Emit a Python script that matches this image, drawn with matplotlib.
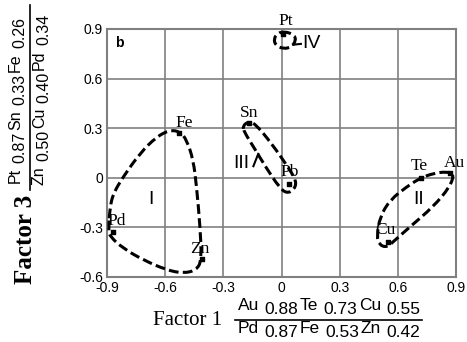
import numpy as np
import matplotlib
matplotlib.use("Agg")
import matplotlib.pyplot as plt
from matplotlib.path import Path
import matplotlib.patches as patches
from matplotlib.lines import Line2D

# element loadings (Factor 1, Factor 3)
elements = ['Pt', 'Fe', 'Pd', 'Zn', 'Sn', 'Pb', 'Te', 'Au', 'Cu']
factor1 = [0.01, -0.53, -0.87, -0.41, -0.17, 0.04, 0.72, 0.87, 0.55]
factor3 = [0.87, 0.27, -0.33, -0.49, 0.33, -0.04, 0.0, 0.03, -0.39]

# factor composition (axis titles)
f1_pos = [('Au', '0.88'), ('Te', '0.73'), ('Cu', '0.55')]
f1_neg = [('Pd', '0.87'), ('Fe', '0.53'), ('Zn', '0.42')]
f3_pos = [('Pt', '0.87'), ('Sn', '0.33'), ('Fe', '0.26')]
f3_neg = [('Zn', '0.50'), ('Cu', '0.40'), ('Pd', '0.34')]

# label offsets in pixels
label_off = {'Pt': (2, 13), 'Fe': (5, 10), 'Pd': (4, 11), 'Zn': (-2, 10),
             'Sn': (1, 10), 'Pb': (0, 12), 'Te': (-2, 12), 'Au': (4, 10),
             'Cu': (-3, 12)}

# group outlines (traced)
group1 = [(-0.884, -0.174), (-0.867, -0.094), (-0.816, 0.007), (-0.730, 0.148),
          (-0.644, 0.249), (-0.575, 0.289), (-0.523, 0.279), (-0.489, 0.229),
          (-0.455, 0.108), (-0.438, -0.053), (-0.420, -0.295), (-0.412, -0.497),
          (-0.438, -0.558), (-0.506, -0.578), (-0.592, -0.558), (-0.713, -0.497),
          (-0.816, -0.427), (-0.884, -0.356), (-0.893, -0.316)]
group3 = [(-0.200, 0.313), (-0.171, 0.340), (-0.137, 0.329), (-0.051, 0.208),
          (0.044, 0.047), (0.078, -0.023), (0.064, -0.074), (0.026, -0.094),
          (-0.011, -0.058), (-0.077, 0.057), (-0.145, 0.188), (-0.193, 0.279)]
group2 = [(0.714, -0.003), (0.783, 0.027), (0.852, 0.037), (0.890, 0.023),
          (0.869, -0.054), (0.783, -0.175), (0.663, -0.296), (0.577, -0.386),
          (0.543, -0.421), (0.505, -0.406), (0.491, -0.356), (0.508, -0.235),
          (0.560, -0.134), (0.646, -0.054)]
group4 = [(0.018, 0.885), (0.065, 0.865), (0.075, 0.830), (0.050, 0.790),
          (0.010, 0.780), (-0.030, 0.800), (-0.040, 0.840), (-0.020, 0.875)]

ticks = [-0.9, -0.6, -0.3, 0, 0.3, 0.6, 0.9]
tick_labels = ['-0.9', '-0.6', '-0.3', '0', '0.3', '0.6', '0.9']

W, H = 467, 342


def smooth_closed(pts):
    pts = np.asarray(pts)
    n = len(pts)
    mids = (pts + np.roll(pts, -1, axis=0)) / 2
    verts = [mids[-1]]
    codes = [Path.MOVETO]
    for i in range(n):
        verts += [pts[i], mids[i]]
        codes += [Path.CURVE3, Path.CURVE3]
    return Path(verts, codes)


def formula(fig, renderer, start, base, parts, size, vertical=False, drop=4, gap=5):
    # start: pixel position along text direction, base: baseline (image px)
    pos = start
    for el, num in parts:
        for s, off in ((el, 0), (num, drop)):
            if vertical:
                t = fig.text((base + off) / W, 1 - pos / H, s, rotation=90,
                             rotation_mode='anchor', ha='left', va='baseline',
                             family='Liberation Sans', fontsize=size)
                ext = t.get_window_extent(renderer)
                pos -= ext.height
            else:
                t = fig.text(pos / W, 1 - (base + off) / H, s, ha='left',
                             va='baseline', family='Liberation Sans', fontsize=size)
                ext = t.get_window_extent(renderer)
                pos += ext.width
            if s == el:
                pos += -gap if vertical else gap
            else:
                pos += -2 if vertical else 2


fig = plt.figure(figsize=(4.67, 3.42), dpi=100)
renderer = fig.canvas.get_renderer()
ax = fig.add_axes([107 / W, 1 - 277 / H, 349 / W, 248 / H])

for g in (group1, group2, group3, group4):
    ax.add_patch(patches.PathPatch(smooth_closed(g), fill=False, edgecolor='black',
                                   linewidth=2.2, linestyle=(0, (3.2, 1.4)),
                                   capstyle='butt', zorder=3))

ax.scatter(factor1, factor3, marker='s', s=9, color='black', zorder=4)
for name, x, y in zip(elements, factor1, factor3):
    dx, dy = label_off[name]
    ax.annotate(name, (x, y), xytext=(dx, dy), textcoords='offset pixels',
                ha='center', va='center', family='Liberation Serif',
                fontsize=12.5, annotation_clip=False, zorder=5)

# group labels
ax.text(-0.675, -0.134, 'I', family='Liberation Sans', fontsize=14,
        ha='center', va='center')
ax.text(0.706, -0.134, 'II', family='Liberation Sans', fontsize=14,
        ha='center', va='center')
ax.text(-0.205, 0.088, 'III', family='Liberation Sans', fontsize=14,
        ha='center', va='center')
ax.plot([-0.145, -0.12], [0.07, 0.145], color='black', lw=1.5)
ax.text(0.156, 0.813, 'IV', family='Liberation Sans', fontsize=14,
        ha='center', va='center')
ax.plot([0.06, 0.10], [0.805, 0.81], color='black', lw=1.5)
ax.text(-0.835, 0.813, 'b', family='Liberation Sans', fontsize=10,
        fontweight='bold', ha='center', va='center')

ax.set_xlim(-0.9, 0.9)
ax.set_ylim(-0.6, 0.9)
ax.set_xticks(ticks)
ax.set_yticks(ticks[1:])
ax.set_xticklabels(tick_labels)
ax.set_yticklabels(tick_labels[1:])
ax.grid(True, color='#808080', linewidth=1.2)
ax.set_axisbelow(True)
for sp in ax.spines.values():
    sp.set_color('#808080')
    sp.set_linewidth(1.5)
ax.tick_params(length=0, pad=3, labelsize=10)
for lab in ax.get_xticklabels() + ax.get_yticklabels():
    lab.set_family('Liberation Sans')

# x axis title
fig.text(188 / W, 1 - 325 / H, 'Factor 1', family='Liberation Serif',
         fontsize=15, ha='center', va='baseline')
formula(fig, renderer, 238, 310, f1_pos, 12.5)
formula(fig, renderer, 238, 333, f1_neg, 12.5)
fig.add_artist(Line2D([235 / W, 422 / W], [1 - 320 / H, 1 - 320 / H],
                      transform=fig.transFigure, color='black', lw=1.2))

# y axis title
fig.text(26 / W, 1 - 239 / H, 'Factor 3', family='Liberation Serif',
         fontsize=18, fontweight='bold', rotation=90, ha='center', va='center')
formula(fig, renderer, 183, 20, f3_pos, 11.5, vertical=True)
formula(fig, renderer, 185, 44, f3_neg, 11.5, vertical=True)
fig.add_artist(Line2D([30 / W, 30 / W], [1 - 190 / H, 1 - 5 / H],
                      transform=fig.transFigure, color='black', lw=1.2))

fig.savefig('out.png', dpi=100)
